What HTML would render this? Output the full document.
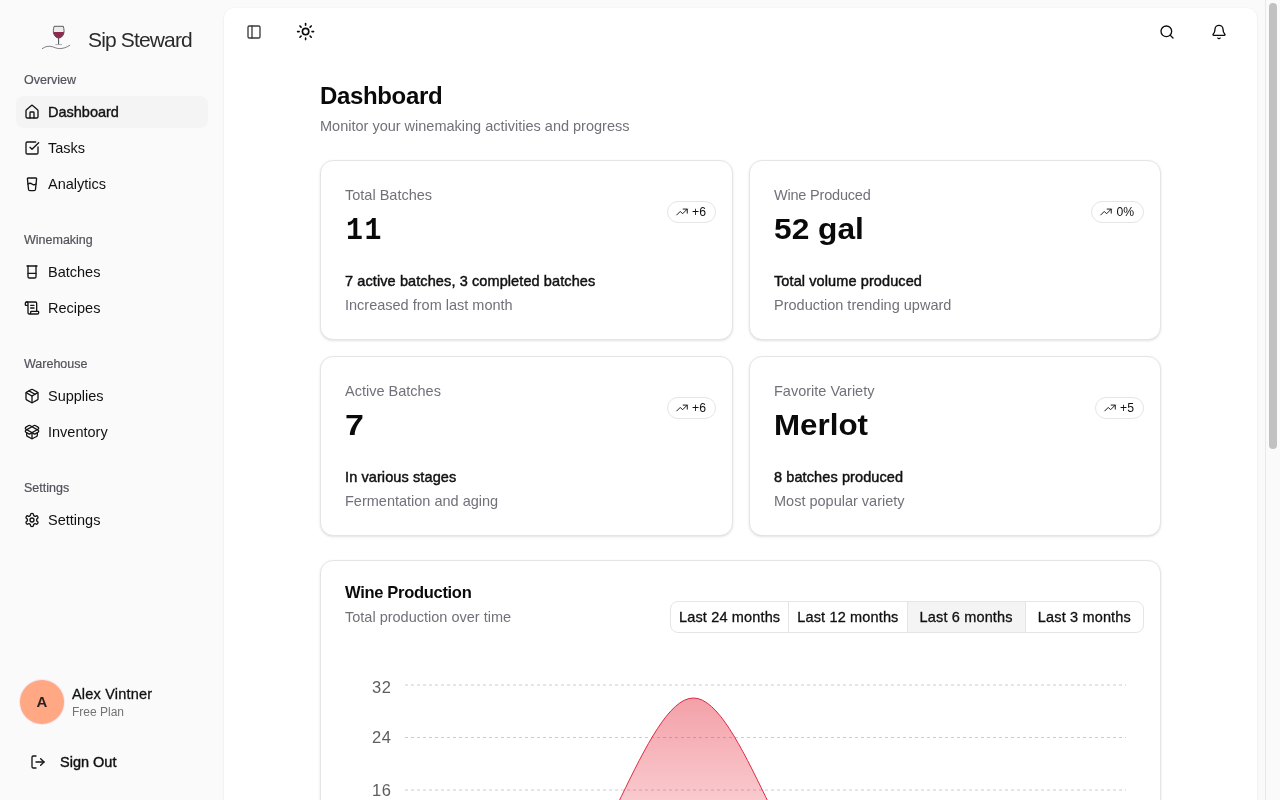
<!DOCTYPE html>
<html lang="en">
<head>
<meta charset="utf-8">
<title>Sip Steward - Dashboard</title>
<style>
*{box-sizing:border-box;margin:0;padding:0}
html,body{width:1280px;height:800px;overflow:hidden}
body{position:relative;background:#fafafa;font-family:"Liberation Sans",sans-serif;color:#0a0a0a;-webkit-font-smoothing:antialiased}
.abs{position:absolute}
svg.ic{position:absolute;width:16px;height:16px;fill:none;stroke:#141416;stroke-width:2;stroke-linecap:round;stroke-linejoin:round}
/* sidebar */
#sidebar{position:absolute;left:0;top:0;width:224px;height:800px}
.brand{position:absolute;left:88px;top:27px;font-size:21px;line-height:26px;color:#2a2a2a;letter-spacing:-0.85px;white-space:nowrap}
.glabel{position:absolute;left:24px;font-size:12.5px;line-height:16px;color:#52525b;white-space:nowrap;-webkit-text-stroke:0.2px #52525b}
.item{position:absolute;left:16px;width:192px;height:32px;border-radius:8px}
.item.active{background:#f4f4f5}
.item svg.ic{left:8px;top:8px}
.item span{position:absolute;left:32px;top:7px;font-size:14.5px;line-height:18px;color:#111113;white-space:nowrap}
.item.active span{-webkit-text-stroke:0.4px #18181b}
.avatar{position:absolute;left:20px;top:680px;width:44px;height:44px;border-radius:50%;background:#ffa883;box-shadow:0 0 0 1px #f6e6ee}
.avatar b{position:absolute;left:0;width:44px;top:13px;text-align:center;font-size:15px;line-height:18px;color:#2a1f22}
.uname{position:absolute;left:72px;top:685px;font-size:14.5px;line-height:18px;letter-spacing:0.200px;color:#111;white-space:nowrap;-webkit-text-stroke:0.3px #111}
.uplan{position:absolute;left:72px;top:704px;font-size:12px;line-height:16px;color:#737373;white-space:nowrap}
.signout{position:absolute;left:60px;top:753px;font-size:14.5px;line-height:18px;color:#111;white-space:nowrap;-webkit-text-stroke:0.4px #111}
/* main */
#main{position:absolute;left:224px;top:8px;width:1033px;height:800px;background:#fff;border-radius:10px 10px 0 0;box-shadow:0 1px 3px rgba(0,0,0,.06),0 0 2px rgba(0,0,0,.04)}
#sbar{position:absolute;left:1265px;top:0;width:15px;height:800px;background:#fafafa;border-left:1px solid #e8e8e8}
#sbar i{position:absolute;left:3px;top:3px;width:8px;height:446px;border-radius:4px;background:#c1c1c1}
h1{position:absolute;left:320px;top:80px;font-size:24px;line-height:32px;font-weight:bold;letter-spacing:-0.35px;white-space:nowrap}
.sub{position:absolute;left:320px;top:117px;font-size:14.5px;line-height:18px;color:#71717a;white-space:nowrap}
.card{position:absolute;background:#fff;border:1px solid #e5e5e5;border-radius:13px;box-shadow:0 1px 3px rgba(0,0,0,.09),0 1px 2px -1px rgba(0,0,0,.09)}
.card .t{position:absolute;left:24px;top:25px;font-size:14.5px;line-height:18px;color:#71717a;white-space:nowrap}
.card .v{position:absolute;left:24px;top:47.500px;font-size:29.500px;line-height:40px;font-weight:bold;letter-spacing:0;transform-origin:0 0;white-space:nowrap}
.card .d{position:absolute;left:24px;top:111px;font-size:14.5px;line-height:18px;letter-spacing:0.100px;color:#111;white-space:nowrap;-webkit-text-stroke:0.45px #111}
.card .e{position:absolute;left:24px;top:135px;font-size:14.5px;line-height:18px;color:#71717a;white-space:nowrap}
.badge{position:absolute;top:40px;right:16.500px;height:22px;border:1px solid #e5e5e5;border-radius:11px;background:#fff;font-size:12.200px;line-height:20px;color:#111;padding:0 8.500px 0 24px;white-space:nowrap;text-align:right}
.badge svg{position:absolute;left:6.500px;top:3.200px;width:14px;height:14px;fill:none;stroke:#18181b;stroke-width:1.700;stroke-linecap:round;stroke-linejoin:round}
.ct{position:absolute;left:24px;top:21px;font-size:16.5px;line-height:20px;font-weight:bold;letter-spacing:-0.3px;white-space:nowrap}
.cs{position:absolute;left:24px;top:47px;font-size:14.5px;line-height:18px;color:#71717a;white-space:nowrap}
.tabs{position:absolute;left:349px;top:40px;width:474px;height:32px;border:1px solid #e5e5e5;border-radius:8px;display:flex;overflow:hidden;background:#fff}
.tabs div{flex:1;text-align:center;font-size:14.5px;letter-spacing:0.150px;line-height:30px;color:#111;border-left:1px solid #e5e5e5;white-space:nowrap;-webkit-text-stroke:0.3px #111}
.tabs div:first-child{border-left:0}
.tabs div.on{background:#f4f4f5}
</style>
</head>
<body>
<div id="sidebar">
  <svg class="abs" style="left:40px;top:22px;width:32px;height:32px" viewBox="40 22 32 32">
    <path d="M54.100 26.300H63.300C64.200 29.500 64.300 32 63.600 33.900C62.700 36.400 60.800 38 58.700 38C56.600 38 54.700 36.400 53.800 33.900C53.100 32 53.200 29.500 54.100 26.300Z" fill="#ececec"/>
    <path d="M53.350 31.900H64.050C64 32.600 63.850 33.300 63.600 33.900C62.700 36.400 60.800 38 58.700 38C56.600 38 54.700 36.400 53.800 33.900C53.550 33.300 53.400 32.600 53.350 31.900Z" fill="#8e2a4d"/>
    <path d="M54.100 26.300H63.300C64.200 29.500 64.300 32 63.600 33.900C62.700 36.400 60.800 38 58.700 38C56.600 38 54.700 36.400 53.800 33.900C53.100 32 53.200 29.500 54.100 26.300Z" fill="none" stroke="#4a4a52" stroke-width="0.900"/>
    <path d="M58.600 38v6.500" fill="none" stroke="#4a4a52" stroke-width="1"/>
    <path d="M55.400 44.600h6.600" fill="none" stroke="#9a9aa0" stroke-width="0.800"/>
    <path d="M42.300 48.600c3-2.300 6.500-2.900 10-1.900c2.200 .600 4.300 1.900 7.200 1.900c3.600 0 6.900-1.100 10.300-3.300" fill="none" stroke="#55555c" stroke-width="0.750" stroke-linecap="round"/>
  </svg>
  <div class="brand">Sip Steward</div>
  <div class="glabel" style="top:72px">Overview</div>
  <div class="item active" style="top:96px"><svg class="ic" viewBox="0 0 24 24"><path d="M15 21v-8a1 1 0 0 0-1-1h-4a1 1 0 0 0-1 1v8"/><path d="M3 10a2 2 0 0 1 .709-1.528l7-5.999a2 2 0 0 1 2.582 0l7 5.999A2 2 0 0 1 21 10v9a2 2 0 0 1-2 2H5a2 2 0 0 1-2-2z"/></svg><span>Dashboard</span></div>
  <div class="item" style="top:132px"><svg class="ic" viewBox="0 0 24 24"><path d="M21 10.5V19a2 2 0 0 1-2 2H5a2 2 0 0 1-2-2V5a2 2 0 0 1 2-2h12.5"/><path d="m9 11 3 3L22 4"/></svg><span>Tasks</span></div>
  <div class="item" style="top:168px"><svg class="ic" viewBox="0 0 24 24"><path d="M5.116 4.104A1 1 0 0 1 6.11 3h11.78a1 1 0 0 1 .994 1.105L17.19 20.21A2 2 0 0 1 15.2 22H8.8a2 2 0 0 1-2-1.79z"/><path d="M6 12a5 5 0 0 1 6 0 5 5 0 0 0 6 0"/></svg><span>Analytics</span></div>
  <div class="glabel" style="top:232px">Winemaking</div>
  <div class="item" style="top:256px"><svg class="ic" viewBox="0 0 24 24"><path d="M4.5 3h15"/><path d="M6 3v16a2 2 0 0 0 2 2h8a2 2 0 0 0 2-2V3"/><path d="M6 14h12"/></svg><span>Batches</span></div>
  <div class="item" style="top:292px"><svg class="ic" viewBox="0 0 24 24"><path d="M15 12h-5"/><path d="M15 8h-5"/><path d="M19 17V5a2 2 0 0 0-2-2H4"/><path d="M8 21h12a2 2 0 0 0 2-2v-1a1 1 0 0 0-1-1H11a1 1 0 0 0-1 1v1a2 2 0 1 1-4 0V5a2 2 0 1 0-4 0v2a1 1 0 0 0 1 1h3"/></svg><span>Recipes</span></div>
  <div class="glabel" style="top:356px">Warehouse</div>
  <div class="item" style="top:380px"><svg class="ic" viewBox="0 0 24 24"><path d="M11 21.73a2 2 0 0 0 2 0l7-4A2 2 0 0 0 21 16V8a2 2 0 0 0-1-1.73l-7-4a2 2 0 0 0-2 0l-7 4A2 2 0 0 0 3 8v8a2 2 0 0 0 1 1.73z"/><path d="M12 22V12"/><path d="M3.29 7 12 12l8.71-5"/><path d="m7.5 4.27 9 5.15"/></svg><span>Supplies</span></div>
  <div class="item" style="top:416px"><svg class="ic" viewBox="0 0 24 24"><path d="M12 22v-9"/><path d="M15.17 2.21a1.67 1.67 0 0 1 1.63 0L21 4.57a1.93 1.93 0 0 1 0 3.36L8.82 14.79a1.655 1.655 0 0 1-1.64 0L3 12.43a1.93 1.93 0 0 1 0-3.36z"/><path d="M20 13v3.87a2.06 2.06 0 0 1-1.11 1.83l-6 3.08a1.93 1.93 0 0 1-1.78 0l-6-3.08A2.06 2.06 0 0 1 4 16.87V13"/><path d="M21 12.43a1.93 1.93 0 0 0 0-3.36L8.83 2.2a1.64 1.64 0 0 0-1.63 0L3 4.57a1.93 1.93 0 0 0 0 3.36l12.18 6.86a1.636 1.636 0 0 0 1.63 0z"/></svg><span>Inventory</span></div>
  <div class="glabel" style="top:480px">Settings</div>
  <div class="item" style="top:504px"><svg class="ic" viewBox="0 0 24 24"><path d="M12.22 2h-.44a2 2 0 0 0-2 2v.18a2 2 0 0 1-1 1.73l-.43.25a2 2 0 0 1-2 0l-.15-.08a2 2 0 0 0-2.73.73l-.22.38a2 2 0 0 0 .73 2.73l.15.1a2 2 0 0 1 1 1.72v.51a2 2 0 0 1-1 1.74l-.15.09a2 2 0 0 0-.73 2.73l.22.38a2 2 0 0 0 2.73.73l.15-.08a2 2 0 0 1 2 0l.43.25a2 2 0 0 1 1 1.73V20a2 2 0 0 0 2 2h.44a2 2 0 0 0 2-2v-.18a2 2 0 0 1 1-1.73l.43-.25a2 2 0 0 1 2 0l.15.08a2 2 0 0 0 2.73-.73l.22-.39a2 2 0 0 0-.73-2.73l-.15-.08a2 2 0 0 1-1-1.74v-.5a2 2 0 0 1 1-1.74l.15-.09a2 2 0 0 0 .73-2.73l-.22-.38a2 2 0 0 0-2.73-.73l-.15.08a2 2 0 0 1-2 0l-.43-.25a2 2 0 0 1-1-1.73V4a2 2 0 0 0-2-2z"/><circle cx="12" cy="12" r="3"/></svg><span>Settings</span></div>
  <div class="avatar"><b>A</b></div>
  <div class="uname">Alex Vintner</div>
  <div class="uplan">Free Plan</div>
  <svg class="ic" style="left:30px;top:754px" viewBox="0 0 24 24"><path d="M9 21H5a2 2 0 0 1-2-2V5a2 2 0 0 1 2-2h4"/><path d="m16 17 5-5-5-5"/><path d="M21 12H9"/></svg>
  <div class="signout">Sign Out</div>
</div>
<div id="main"></div>
<div id="sbar"><i></i></div>
<svg class="ic" style="left:246px;top:24px;stroke:#3a3a3c" viewBox="0 0 24 24"><rect width="18" height="18" x="3" y="3" rx="2"/><path d="M9 3v18"/></svg>
<svg class="ic" style="left:296px;top:22px;width:19.2px;height:19.2px;stroke:#0a0a0a" viewBox="0 0 24 24"><circle cx="12" cy="12" r="4"/><path d="M12 2v2"/><path d="M12 20v2"/><path d="m4.93 4.930 1.410 1.410"/><path d="m17.660 17.660 1.410 1.410"/><path d="M2 12h2"/><path d="M20 12h2"/><path d="m6.340 17.660-1.410 1.410"/><path d="m19.070 4.930-1.410 1.410"/></svg>
<svg class="ic" style="left:1159px;top:24px;stroke:#0a0a0a" viewBox="0 0 24 24"><circle cx="11" cy="11" r="8"/><path d="m21 21-4.300-4.300"/></svg>
<svg class="ic" style="left:1211px;top:24px;stroke:#0a0a0a" viewBox="0 0 24 24"><path d="M10.268 21a2 2 0 0 0 3.464 0"/><path d="M3.262 15.326A1 1 0 0 0 4 17h16a1 1 0 0 0 .74-1.673C19.410 13.956 18 12.499 18 8A6 6 0 0 0 6 8c0 4.499-1.411 5.956-2.738 7.326"/></svg>
<h1>Dashboard</h1>
<div class="sub">Monitor your winemaking activities and progress</div>

<div class="card" style="left:320px;top:160px;width:413px;height:180px">
  <div class="t">Total Batches</div><div class="v" style="font-family:'Liberation Mono',monospace;font-size:31px;letter-spacing:1.800px;left:24.800px;top:49.500px;transform:scaleX(0.910);transform-origin:0 0">11</div>
  <div class="badge"><svg viewBox="0 0 24 24"><path d="M3 17l6-6l4 4l8-8"/><path d="M14 7h7v7"/></svg>+6</div>
  <div class="d">7 active batches, 3 completed batches</div><div class="e">Increased from last month</div>
</div>
<div class="card" style="left:749px;top:160px;width:412px;height:180px">
  <div class="t" style="letter-spacing:-0.200px">Wine Produced</div><div class="v" style="transform:scaleX(1.075)">52 gal</div>
  <div class="badge"><svg viewBox="0 0 24 24"><path d="M3 17l6-6l4 4l8-8"/><path d="M14 7h7v7"/></svg>0%</div>
  <div class="d">Total volume produced</div><div class="e">Production trending upward</div>
</div>
<div class="card" style="left:320px;top:356px;width:413px;height:180px">
  <div class="t">Active Batches</div><div class="v" style="transform:scaleX(1.150);transform-origin:0 0">7</div>
  <div class="badge"><svg viewBox="0 0 24 24"><path d="M3 17l6-6l4 4l8-8"/><path d="M14 7h7v7"/></svg>+6</div>
  <div class="d">In various stages</div><div class="e">Fermentation and aging</div>
</div>
<div class="card" style="left:749px;top:356px;width:412px;height:180px">
  <div class="t">Favorite Variety</div><div class="v" style="transform:scaleX(1.062)">Merlot</div>
  <div class="badge"><svg viewBox="0 0 24 24"><path d="M3 17l6-6l4 4l8-8"/><path d="M14 7h7v7"/></svg>+5</div>
  <div class="d">8 batches produced</div><div class="e">Most popular variety</div>
</div>
<div class="card" id="chart" style="left:320px;top:560px;width:841px;height:260px">
  <div class="ct">Wine Production</div>
  <div class="cs">Total production over time</div>
  <div class="tabs"><div>Last 24 months</div><div>Last 12 months</div><div class="on">Last 6 months</div><div>Last 3 months</div></div>
</div>
<svg class="abs" style="left:320px;top:640px;width:841px;height:160px" viewBox="320 640 841 160">
  <defs><linearGradient id="g" gradientUnits="userSpaceOnUse" x1="0" y1="698" x2="0" y2="895"><stop offset="0" stop-color="#e62d3e" stop-opacity="0.45"/><stop offset="1" stop-color="#e62d3e" stop-opacity="0.07"/></linearGradient></defs>
  <g stroke="#ccc" stroke-dasharray="3 3" stroke-width="1" fill="none"><path d="M405 685H1126"/><path d="M405 737.500H1126"/><path d="M405 790H1126"/></g>
  <path d="M549.200 895C597.270 895 645.330 698 693.400 698C741.470 698 789.530 895 837.600 895Z" fill="url(#g)"/>
  <path d="M549.200 895C597.270 895 645.330 698 693.400 698C741.470 698 789.530 895 837.600 895" fill="none" stroke="#e02844" stroke-width="1"/>
  <g font-family="Liberation Sans, sans-serif" font-size="16.500" letter-spacing="0.600" fill="#5e5e5e" text-anchor="end"><text x="391.500" y="692.800">32</text><text x="391.500" y="743.200">24</text><text x="391.500" y="796.200">16</text></g>
</svg>
</body>
</html>
